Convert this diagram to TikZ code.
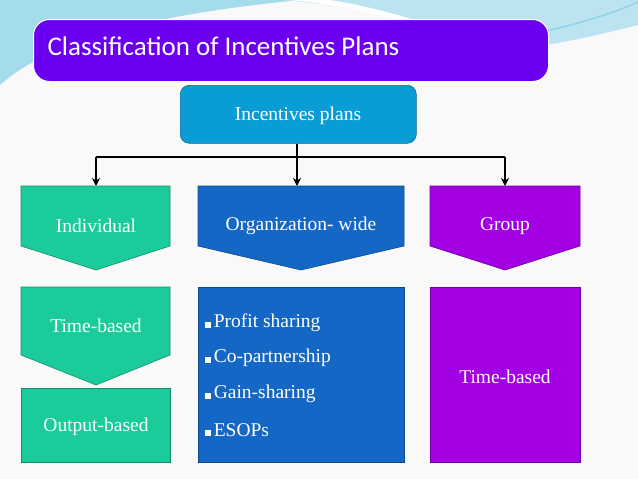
\documentclass[tikz,border=0pt]{standalone}
\usepackage{fontspec}
\usetikzlibrary{arrows.meta}
\setmainfont{Liberation Serif}
\newfontfamily\titlefont{Carlito}
\definecolor{ttl}{HTML}{6A00EE}
\definecolor{top}{HTML}{0A9CD5}
\definecolor{teal}{HTML}{1CCB9C}
\definecolor{blu}{HTML}{1467C4}
\definecolor{pur}{HTML}{A300E3}
\definecolor{sky}{HTML}{8FD3E6}
\begin{document}
\begin{tikzpicture}[x=1pt,y=-1pt,
  box/.style={draw=#1!70!black,fill=#1,line width=0.6pt},
  lbl/.style={text=white,font=\fontsize{19.5}{22}\selectfont,align=left},
  conn/.style={line width=1.6pt,-{Stealth[length=8pt,width=8pt]}}]
\useasboundingbox (0,0) rectangle (638,479);
\fill[white!95!gray] (0,0) rectangle (638,479);
% background swoosh
\fill[sky!80!white] (0,0) -- (300,0) .. controls (150,15) and (50,40) .. (0,85) -- cycle;
\fill[sky!60!white] (280,0) -- (638,0) -- (638,25) .. controls (560,45) and (500,55) .. (470,45) .. controls (420,20) and (350,5) .. (280,0) -- cycle;
\fill[white] (290,0) .. controls (350,6) and (420,22) .. (470,44) .. controls (440,25) and (380,8) .. (330,0) -- cycle;
\draw[sky,line width=1.5pt] (500,40) .. controls (560,30) and (610,15) .. (638,2);
% title
\node[draw=white,line width=1pt,fill=ttl,rounded corners=16pt,minimum width=515pt,minimum height=62pt,anchor=north west,inner sep=0pt] (title) at (33,19) {};
\node[text=white,anchor=west,font=\titlefont\fontsize{27}{30}\selectfont] (tt) at (44,46) {Classification of Incentives Plans};
% top node
\node[box=top,rounded corners=9pt,minimum width=236pt,minimum height=58pt,anchor=north west,inner sep=0pt] (ip) at (180,85) {};
\node[lbl] (ipt) at (298,116) {Incentives plans};
\coordinate (j) at (297,157);
\coordinate (jl) at (96,157);
\coordinate (jr) at (505,157);
\coordinate (al) at (96,186);
\coordinate (am) at (297,186);
\coordinate (ar) at (505,186);
\draw[line width=1.6pt] (ip.south -| j) -- (j);
\draw[line width=1.6pt] (jl) -- (jr);
\draw[conn] (jl) -- (al);
\draw[conn] (j) -- (am);
\draw[conn] (jr) -- (ar);
% arrow-shaped boxes
\draw[box=teal] (21,186) -- (170,186) -- (170,246) -- (96,270) -- (21,246) -- cycle;
\node[lbl] (ind) at (96,226) {Individual};
\draw[box=blu] (198,186) -- (404,186) -- (404,246) -- (301,270) -- (198,246) -- cycle;
\node[lbl] (org) at (301,226) {Organization- wide};
\draw[box=pur] (430,186) -- (580,186) -- (580,246) -- (505,270) -- (430,246) -- cycle;
\node[lbl] (grp) at (505,226) {Group};
\draw[box=teal] (21,287) -- (170,287) -- (170,355) -- (96,385) -- (21,355) -- cycle;
\node[lbl] (tb) at (96,326) {Time-based};
\draw[box=teal] (21,388) rectangle (170,462);
\node[lbl] (ob) at (96,427) {Output-based};
\draw[box=blu] (198,287) rectangle (404,462);
\node[lbl,anchor=west] (l1) at (201,323) {\rule{6pt}{6pt}\,Profit sharing};
\node[lbl,anchor=west] (l2) at (201,358) {\rule{6pt}{6pt}\,Co-partnership};
\node[lbl,anchor=west] (l3) at (201,394) {\rule{6pt}{6pt}\,Gain-sharing};
\node[lbl,anchor=west] (l4) at (201,430) {\rule{6pt}{6pt}\,ESOPs};
\draw[box=pur] (430,287) rectangle (580,462);
\node[lbl] (gtb) at (505,377) {Time-based};
\end{tikzpicture}
\end{document}
